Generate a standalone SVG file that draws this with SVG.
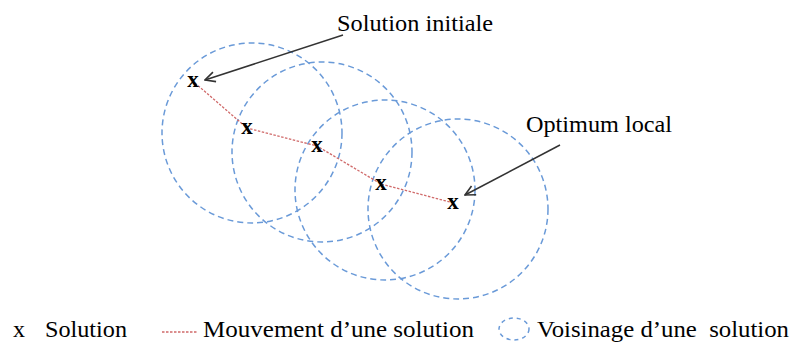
<svg xmlns="http://www.w3.org/2000/svg" width="794" height="343" viewBox="0 0 794 343">
<defs>
<style>
.nb{fill:none;stroke:#6a9ad8;stroke-width:1.5;stroke-dasharray:6,4}
.mv{fill:none;stroke:#d06a6a;stroke-width:1.3;stroke-dasharray:2.5,1.5}
.ar{fill:none;stroke:#333;stroke-width:1.5}
text{font-family:'Liberation Serif','Times New Roman',serif}
.t{font-size:24px;fill:#000}
.x{font-size:23px;font-weight:bold;fill:#000;text-anchor:middle}
</style>
<marker id="oa" viewBox="0 0 12 12" refX="11" refY="6" markerWidth="12" markerHeight="12" markerUnits="userSpaceOnUse" orient="auto">
<path d="M1,1 L11,6 L1,11" fill="none" stroke="#333" stroke-width="1.6"/>
</marker>
</defs>
<rect width="794" height="343" fill="#fff"/>
<g id="neighbourhoods">
<circle id="n1" class="nb" cx="252" cy="133" r="90"/>
<circle id="n2" class="nb" cx="322" cy="152" r="90"/>
<circle id="n3" class="nb" cx="385" cy="190" r="90"/>
<circle id="n4" class="nb" cx="458" cy="209" r="90"/>
</g>
<g id="connectors">
<polyline class="mv" points="195,83 247,128 317,146 381,184 450,202"/>
<line class="ar" x1="343" y1="35" x2="205" y2="80" marker-end="url(#oa)"/>
<line class="ar" x1="560" y1="145" x2="465" y2="195" marker-end="url(#oa)"/>
</g>
<g id="s1"><text class="x" x="193" y="87">x</text></g>
<g id="s2"><text class="x" x="247" y="134">x</text></g>
<g id="s3"><text class="x" x="317" y="152">x</text></g>
<g id="s4"><text class="x" x="381" y="190">x</text></g>
<g id="s5"><text class="x" x="453" y="209">x</text></g>
<g id="label-init"><text class="t" x="337" y="31" textLength="156" lengthAdjust="spacingAndGlyphs">Solution initiale</text></g>
<g id="label-opt"><text class="t" x="526" y="132" textLength="146" lengthAdjust="spacingAndGlyphs">Optimum local</text></g>
<g id="legend">
<text class="t" x="13" y="337">x</text>
<text class="t" x="45" y="337" textLength="82" lengthAdjust="spacingAndGlyphs">Solution</text>
<line class="mv" x1="162" y1="332" x2="198" y2="332"/>
<text class="t" x="203" y="337" textLength="271" lengthAdjust="spacingAndGlyphs">Mouvement d’une solution</text>
<ellipse class="nb" cx="514" cy="329" rx="15" ry="11" style="stroke-dasharray:4,4"/>
<text class="t" x="537" y="337" textLength="252" lengthAdjust="spacingAndGlyphs" xml:space="preserve">Voisinage d’une  solution</text>
</g>
</svg>
